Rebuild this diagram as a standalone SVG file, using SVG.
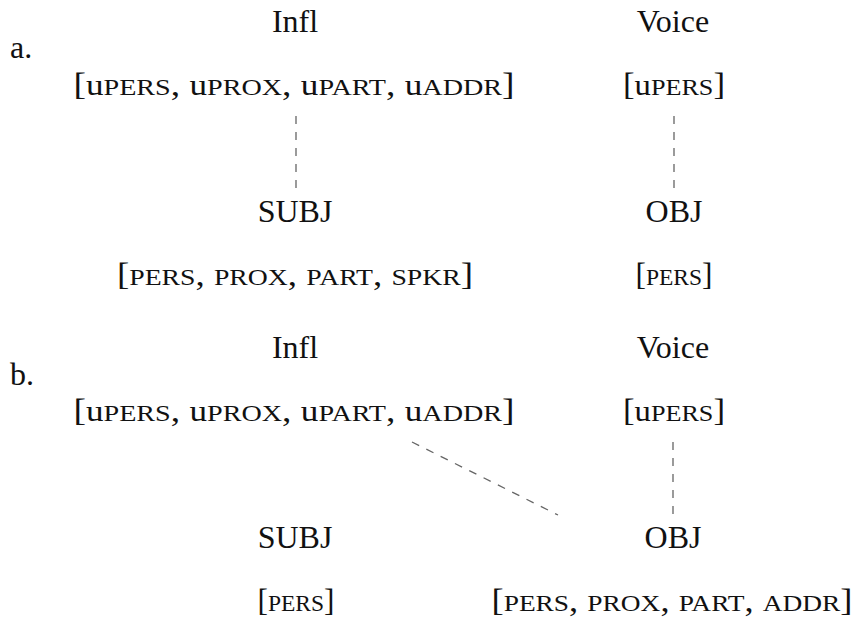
<svg xmlns="http://www.w3.org/2000/svg" width="858" height="622" viewBox="0 0 858 622">
<style>
text{font-family:"Liberation Serif","Times New Roman",serif;fill:#111;font-size:32px;text-anchor:middle}
.sc{font-size:24px}
.u{font-size:30px}
.lab{text-anchor:start}
.dash{stroke:#666;stroke-width:1.3;stroke-dasharray:8 8;fill:none}
</style>
<rect width="858" height="622" fill="#fff"/>
<g id="labels">
<text class="lab" x="10" y="58">a.</text>
<text class="lab" x="10" y="385">b.</text>
</g>
<g id="a-infl">
<text x="295" y="32">Infl</text>
<text x="294" y="95" textLength="441" lengthAdjust="spacingAndGlyphs">[<tspan class="u">u</tspan><tspan class="sc">PERS</tspan>, <tspan class="u">u</tspan><tspan class="sc">PROX</tspan>, <tspan class="u">u</tspan><tspan class="sc">PART</tspan>, <tspan class="u">u</tspan><tspan class="sc">ADDR</tspan>]</text>
</g>
<g id="a-voice">
<text x="673" y="32">Voice</text>
<text x="674" y="95" textLength="102" lengthAdjust="spacingAndGlyphs">[<tspan class="u">u</tspan><tspan class="sc">PERS</tspan>]</text>
</g>
<g id="a-subj">
<text x="295" y="222">SUBJ</text>
<text x="295" y="285" textLength="356" lengthAdjust="spacingAndGlyphs">[<tspan class="sc">PERS</tspan>, <tspan class="sc">PROX</tspan>, <tspan class="sc">PART</tspan>, <tspan class="sc">SPKR</tspan>]</text>
</g>
<g id="a-obj">
<text x="674" y="222">OBJ</text>
<text x="674" y="285" textLength="77" lengthAdjust="spacingAndGlyphs">[<tspan class="sc">PERS</tspan>]</text>
</g>
<g id="b-infl">
<text x="295" y="358">Infl</text>
<text x="294" y="421" textLength="441" lengthAdjust="spacingAndGlyphs">[<tspan class="u">u</tspan><tspan class="sc">PERS</tspan>, <tspan class="u">u</tspan><tspan class="sc">PROX</tspan>, <tspan class="u">u</tspan><tspan class="sc">PART</tspan>, <tspan class="u">u</tspan><tspan class="sc">ADDR</tspan>]</text>
</g>
<g id="b-voice">
<text x="673" y="358">Voice</text>
<text x="674" y="421" textLength="102" lengthAdjust="spacingAndGlyphs">[<tspan class="u">u</tspan><tspan class="sc">PERS</tspan>]</text>
</g>
<g id="b-subj">
<text x="295" y="548">SUBJ</text>
<text x="296" y="611" textLength="77" lengthAdjust="spacingAndGlyphs">[<tspan class="sc">PERS</tspan>]</text>
</g>
<g id="b-obj">
<text x="673" y="548">OBJ</text>
<text x="672" y="611" textLength="361" lengthAdjust="spacingAndGlyphs">[<tspan class="sc">PERS</tspan>, <tspan class="sc">PROX</tspan>, <tspan class="sc">PART</tspan>, <tspan class="sc">ADDR</tspan>]</text>
</g>
<g id="connectors">
<line class="dash" x1="296" y1="116" x2="296" y2="189"/>
<line class="dash" x1="674" y1="116" x2="674" y2="189"/>
<line class="dash" x1="412" y1="442" x2="558" y2="515"/>
<line class="dash" x1="673" y1="442" x2="673" y2="515"/>
</g>
</svg>
